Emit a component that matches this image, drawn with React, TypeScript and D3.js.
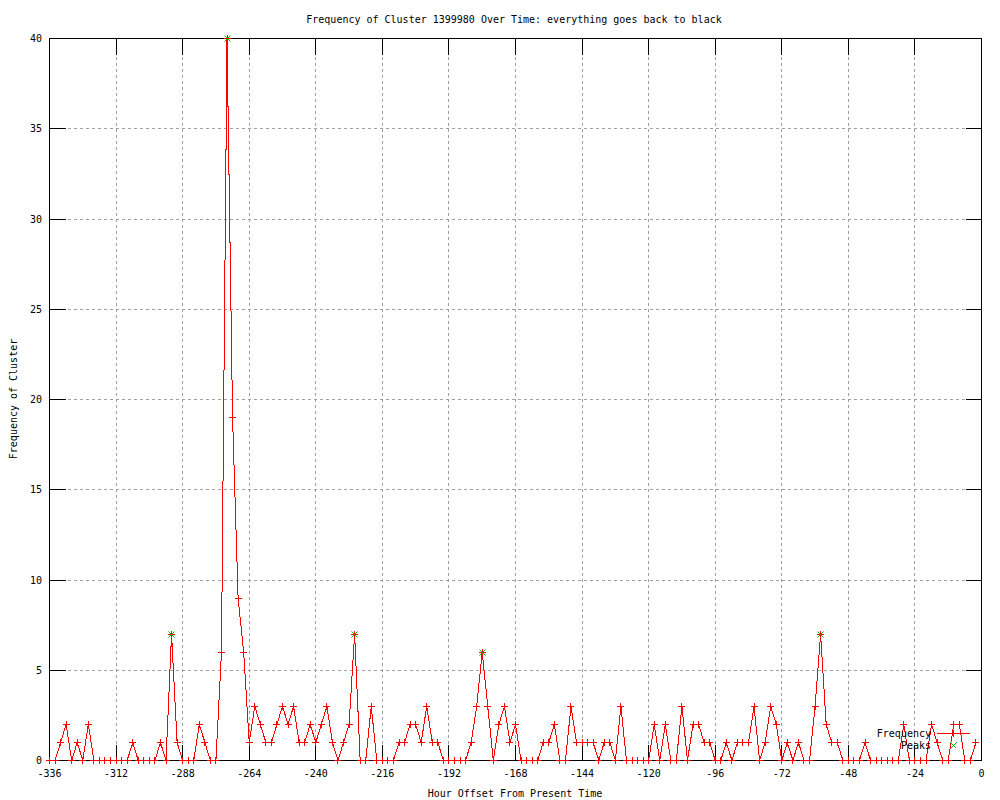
import React from "react";
import * as d3 from "d3";

const width = 1000;
const height = 800;
const margin = { top: 38.5, right: 18.5, bottom: 39.5, left: 49.5 };

// hour offsets (every 2 hours)
const hours = [
  -336, -334, -332, -330, -328, -326, -324, -322, -320, -318, -316, -314, -312, -310, -308, -306, -304, -302,
  -300, -298, -296, -294, -292, -290, -288, -286, -284, -282, -280, -278, -276, -274, -272, -270, -268, -266,
  -264, -262, -260, -258, -256, -254, -252, -250, -248, -246, -244, -242, -240, -238, -236, -234, -232, -230,
  -228, -226, -224, -222, -220, -218, -216, -214, -212, -210, -208, -206, -204, -202, -200, -198, -196, -194,
  -192, -190, -188, -186, -184, -182, -180, -178, -176, -174, -172, -170, -168, -166, -164, -162, -160, -158,
  -156, -154, -152, -150, -148, -146, -144, -142, -140, -138, -136, -134, -132, -130, -128, -126, -124, -122,
  -120, -118, -116, -114, -112, -110, -108, -106, -104, -102, -100, -98, -96, -94, -92, -90, -88, -86,
  -84, -82, -80, -78, -76, -74, -72, -70, -68, -66, -64, -62, -60, -58, -56, -54, -52, -50,
  -48, -46, -44, -42, -40, -38, -36, -34, -32, -30, -28, -26, -24, -22, -20, -18, -16, -14,
  -12, -10, -8, -6, -4, -2
];

const frequency = [
  0, 0, 1, 2, 0, 1, 0, 2, 0, 0,
  0, 0, 0, 0, 0, 1, 0, 0, 0, 0,
  1, 0, 7, 1, 0, 0, 0, 2, 1, 0,
  0, 6, 40, 19, 9, 6, 1, 3, 2, 1,
  1, 2, 3, 2, 3, 1, 1, 2, 1, 2,
  3, 1, 0, 1, 2, 7, 0, 0, 3, 0,
  0, 0, 0, 1, 1, 2, 2, 1, 3, 1,
  1, 0, 0, 0, 0, 0, 1, 3, 6, 3,
  0, 2, 3, 1, 2, 0, 0, 0, 0, 1,
  1, 2, 0, 0, 3, 1, 1, 1, 1, 0,
  1, 1, 0, 3, 0, 0, 0, 0, 0, 2,
  0, 2, 0, 0, 3, 0, 2, 2, 1, 1,
  0, 0, 1, 0, 1, 1, 1, 3, 0, 1,
  3, 2, 0, 1, 0, 1, 0, 0, 3, 7,
  2, 1, 1, 0, 0, 0, 0, 1, 0, 0,
  0, 0, 0, 0, 2, 0, 0, 0, 0, 2,
  1, 0, 0, 2, 2, 0, 0, 1
];

const peakHours = [-292, -272, -226, -180, -58];
const peakValues = [7, 40, 7, 6, 7];

const xTicks = [-336, -312, -288, -264, -240, -216, -192, -168, -144, -120, -96, -72, -48, -24, 0];
const yTicks = [0, 5, 10, 15, 20, 25, 30, 35, 40];

const title = "Frequency of Cluster 1399980 Over Time: everything goes back to black";
const xLabel = "Hour Offset From Present Time";
const yLabel = "Frequency of Cluster";

const font = "'DejaVu Sans Mono', monospace";
const tickLen = 16;

const plus = (x: number, y: number, s = 3.5) =>
  `M${x - s},${y}H${x + s}M${x},${y - s}V${y + s}`;
const cross = (x: number, y: number, s = 3) =>
  `M${x - s},${y - s}L${x + s},${y + s}M${x - s},${y + s}L${x + s},${y - s}`;

export default function App() {
  const x = d3.scaleLinear().domain([-336, 0]).range([margin.left, width - margin.right]);
  const y = d3.scaleLinear().domain([0, 40]).range([height - margin.bottom, margin.top]);
  const x0 = margin.left;
  const x1 = width - margin.right;
  const y0 = height - margin.bottom;
  const y1 = margin.top;

  const pts = hours.map((h, i) => [x(h), y(frequency[i])] as [number, number]);
  const line = d3.line()(pts) || "";
  const px = (v: number) => Math.round(v - 0.5) + 0.5;

  return (
    <svg
      width={width}
      height={height}
      style={{ position: "absolute", left: 0, top: 0, background: "#fff" }}
    >
      {/* grid */}
      <g stroke="#a0a0a0" strokeDasharray="3,3" shapeRendering="crispEdges">
        {xTicks.slice(1, -1).map(t => (
          <line key={"gx" + t} x1={px(x(t))} x2={px(x(t))} y1={y1} y2={y0} />
        ))}
        {yTicks.slice(1, -1).map(t => (
          <line key={"gy" + t} x1={x0} x2={x1} y1={px(y(t))} y2={px(y(t))} />
        ))}
      </g>

      {/* border + ticks */}
      <g stroke="#000" shapeRendering="crispEdges" fill="none">
        <rect x={x0} y={y1} width={x1 - x0} height={y0 - y1} />
        {xTicks.map(t => (
          <g key={"tx" + t}>
            <line x1={px(x(t))} x2={px(x(t))} y1={y0} y2={y0 - tickLen} />
            <line x1={px(x(t))} x2={px(x(t))} y1={y1} y2={y1 + tickLen} />
          </g>
        ))}
        {yTicks.map(t => (
          <g key={"ty" + t}>
            <line x1={x0} x2={x0 + tickLen} y1={px(y(t))} y2={px(y(t))} />
            <line x1={x1} x2={x1 - tickLen} y1={px(y(t))} y2={px(y(t))} />
          </g>
        ))}
      </g>

      {/* tick labels */}
      <g fontFamily={font} fontSize={10} fill="#000">
        {xTicks.map(t => (
          <text key={"lx" + t} x={x(t)} y={777} textAnchor="middle">
            {t}
          </text>
        ))}
        {yTicks.map(t => (
          <text key={"ly" + t} x={42} y={y(t) + 3.5} textAnchor="end">
            {t}
          </text>
        ))}
        <text x={514} y={23} textAnchor="middle">{title}</text>
        <text x={515} y={797} textAnchor="middle">{xLabel}</text>
        <text x={17} y={399} textAnchor="middle" transform="rotate(-90 17 399)">
          {yLabel}
        </text>
      </g>

      {/* frequency series */}
      <g shapeRendering="crispEdges">
        <path d={line} fill="none" stroke="#ff0000" strokeWidth={1} />
        <path
          d={pts.map(([a, b]) => plus(px(a), px(b))).join("")}
          fill="none"
          stroke="#ff0000"
        />
      </g>

      {/* peaks */}
      <path
        d={peakHours.map((h, i) => cross(px(x(h)), px(y(peakValues[i])))).join("")}
        fill="none"
        stroke="#00c000"
      />

      {/* legend */}
      <g fontFamily={font} fontSize={10} fill="#000">
        <text x={931} y={737} textAnchor="end">Frequency</text>
        <text x={931} y={749} textAnchor="end">Peaks</text>
      </g>
      <g shapeRendering="crispEdges" fill="none">
        <line x1={937} x2={970} y1={733.5} y2={733.5} stroke="#ff0000" />
        <path d={plus(953.5, 733.5)} stroke="#ff0000" />
        <path d={cross(953.5, 745.5)} stroke="#00c000" />
      </g>
    </svg>
  );
}
